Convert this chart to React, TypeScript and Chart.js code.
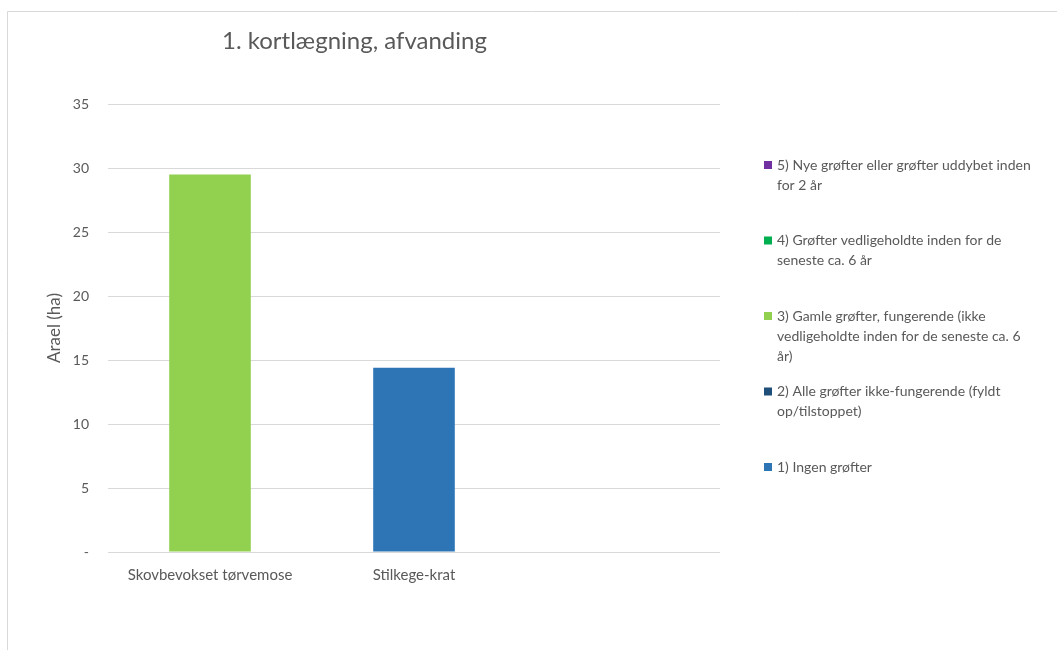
import { useEffect, useRef } from 'react';
import { Chart, registerables } from 'chart.js';

Chart.register(...registerables);

const categories = ['Skovbevokset tørvemose', 'Stilkege-krat', ''];
const ingenGrofter = [0, 14.4, 0];
const alleIkkeFungerende = [0, 0, 0];
const gamleFungerende = [29.5, 0, 0];
const vedligeholdte = [0, 0, 0];
const nyeGrofter = [0, 0, 0];

const seriesNames = [
  '1) Ingen grøfter',
  '2) Alle grøfter ikke-fungerende (fyldt op/tilstoppet)',
  '3) Gamle grøfter, fungerende (ikke vedligeholdte inden for de seneste ca. 6 år)',
  '4) Grøfter vedligeholdte inden for de seneste ca. 6 år',
  '5) Nye grøfter eller grøfter uddybet inden for 2 år',
];
const seriesColors = ['#2E75B6', '#1F4E79', '#92D050', '#00B050', '#7030A0'];

// legend lines, top to bottom (reverse series order)
const legendLines: string[][] = [
  ['5) Nye grøfter eller grøfter uddybet inden', 'for 2 år'],
  ['4) Grøfter vedligeholdte inden for de', 'seneste ca. 6 år'],
  ['3) Gamle grøfter, fungerende (ikke', 'vedligeholdte inden for de seneste ca. 6', 'år)'],
  ['2) Alle grøfter ikke-fungerende (fyldt', 'op/tilstoppet)'],
  ['1) Ingen grøfter'],
];
const legendColors = ['#7030A0', '#00B050', '#92D050', '#1F4E79', '#2E75B6'];

const chartTitle = '1. kortlægning, afvanding';
const yAxisTitle = 'Arael (ha)';
const yMax = 35;
const yStep = 5;

const FONT = 'Lato, "Open Sans", sans-serif';
const TEXT = '#595959';

const decorPlugin = {
  id: 'decor',
  beforeDraw(chart: any) {
    const ctx = chart.ctx;
    ctx.save();
    ctx.fillStyle = '#ffffff';
    ctx.fillRect(0, 0, chart.width, chart.height);
    ctx.strokeStyle = '#d9d9d9';
    ctx.lineWidth = 1;
    ctx.beginPath();
    ctx.moveTo(7.5, chart.height);
    ctx.lineTo(7.5, 11.5);
    ctx.lineTo(chart.width, 11.5);
    ctx.stroke();
    ctx.restore();
  },
  afterDraw(chart: any) {
    const ctx = chart.ctx;
    ctx.save();
    ctx.fillStyle = TEXT;
    ctx.textBaseline = 'middle';
    ctx.textAlign = 'left';
    ctx.font = `24px ${FONT}`;
    ctx.fillText(chartTitle, 222, 41);

    ctx.font = `14px ${FONT}`;
    legendLines.forEach((lines, i) => {
      const y0 = 165 + i * 75.5;
      ctx.fillStyle = legendColors[i];
      ctx.fillRect(764, y0 - 4, 8, 8);
      ctx.fillStyle = TEXT;
      lines.forEach((ln, j) => {
        ctx.fillText(ln, 777, y0 + j * 20);
      });
    });
    ctx.restore();
  },
};

export default function App() {
  const ref = useRef<HTMLCanvasElement | null>(null);

  useEffect(() => {
    if (!ref.current) return;
    const data = [ingenGrofter, alleIkkeFungerende, gamleFungerende, vedligeholdte, nyeGrofter];
    const chart = new Chart(ref.current, {
      type: 'bar',
      data: {
        labels: categories,
        datasets: data.map((d, i) => ({
          label: seriesNames[i],
          data: d,
          backgroundColor: seriesColors[i],
          borderWidth: 0,
          barPercentage: 0.4,
          categoryPercentage: 1,
        })),
      },
      options: {
        responsive: false,
        animation: false,
        layout: { padding: { top: 104, right: 337, left: 0, bottom: 0 } },
        plugins: {
          legend: { display: false },
          title: { display: false },
          tooltip: { enabled: false },
        },
        scales: {
          x: {
            stacked: true,
            grid: { display: false },
            border: { display: false },
            ticks: { color: TEXT, font: { family: FONT, size: 15 }, padding: 6, maxRotation: 0 },
            afterFit: (s: any) => { s.height = 98; },
          },
          y: {
            stacked: true,
            min: 0,
            max: yMax,
            grid: { color: '#d9d9d9', drawTicks: false, lineWidth: 1 },
            border: { display: false },
            ticks: {
              stepSize: yStep,
              color: TEXT,
              font: { family: FONT, size: 14 },
              padding: 19,
              callback: (v: any) => (Number(v) === 0 ? '-' : String(v)),
            },
            title: {
              display: true,
              text: yAxisTitle,
              color: TEXT,
              font: { family: FONT, size: 17 },
              padding: { top: 44, bottom: 0 },
            },
            afterFit: (s: any) => { s.width = 108; },
          },
        },
      },
      plugins: [decorPlugin],
    });
    return () => chart.destroy();
  }, []);

  return (
    <div style={{ position: 'absolute', left: 0, top: 0, width: 1057, height: 650 }}>
      <canvas ref={ref} width={1057} height={650} style={{ width: 1057, height: 650, display: 'block' }} />
    </div>
  );
}
